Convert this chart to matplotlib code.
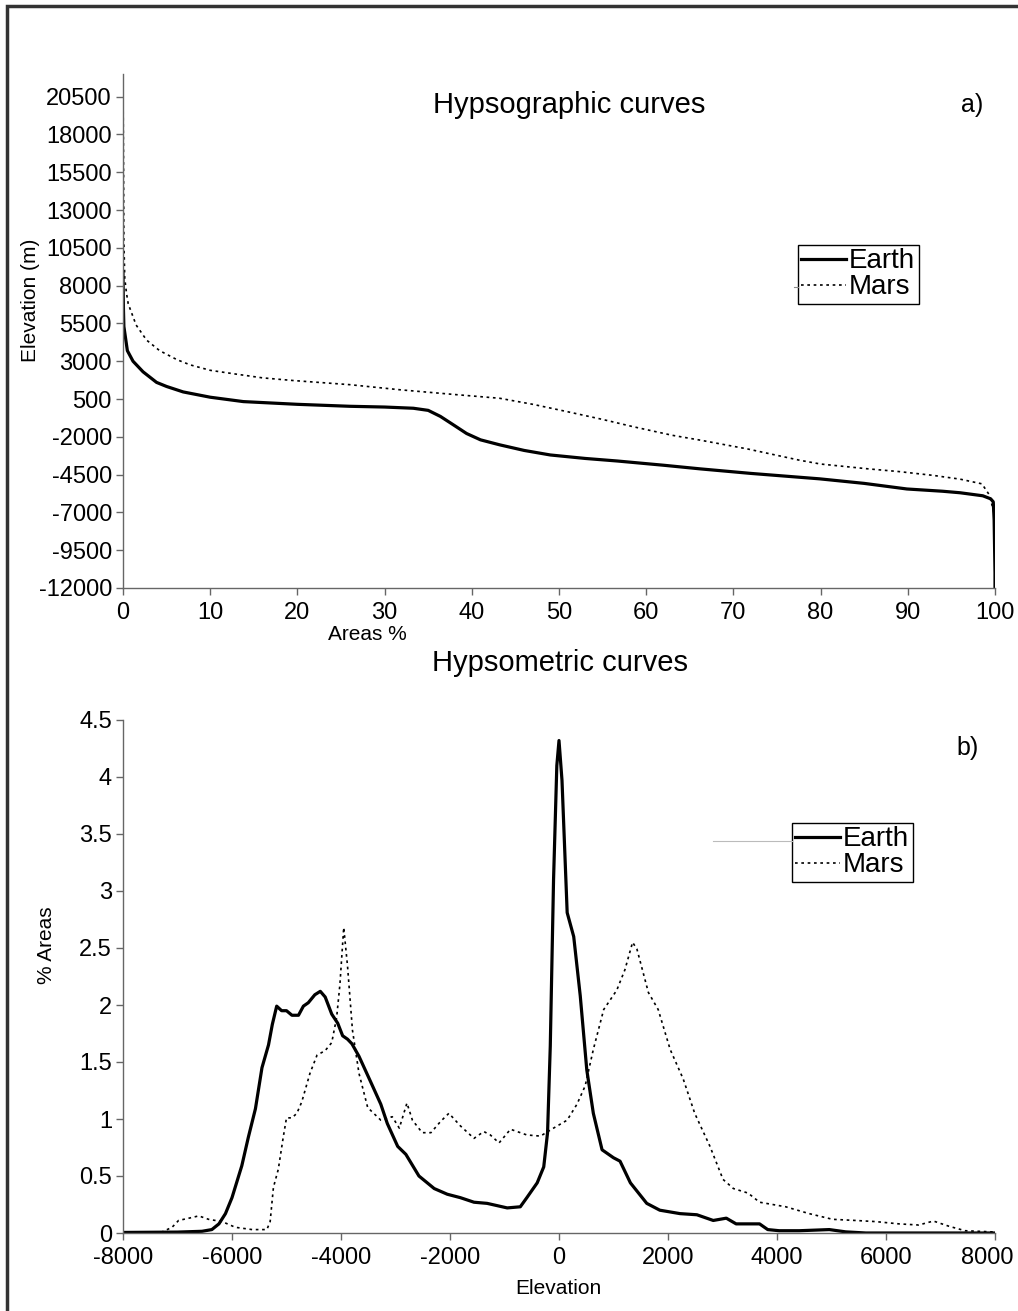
"""
Hypsographic / hypsometric curves, Earth vs Mars.
Two stacked panels, Excel-like styling.
"""

import matplotlib
matplotlib.use("Agg")
import matplotlib.pyplot as plt
from matplotlib.patches import Rectangle
from matplotlib.lines import Line2D
from matplotlib.ticker import FuncFormatter
from matplotlib.transforms import ScaledTranslation

plt.rcParams["font.family"] = ["Liberation Sans", "DejaVu Sans"]
plt.rcParams["axes.unicode_minus"] = False

# ---- panel a) hypsographic curves: cumulative area % vs elevation (m)
EARTH_AREA = [0, 0.05, 0.1, 0.5, 1.15, 2.3, 3.85, 5, 6.9, 10, 13.8, 20, 26, 30,
              33.3, 35, 36.4, 38, 39.4, 41, 43.2, 46, 49, 53, 56.7, 62, 66.2,
              72, 79.9, 85, 89.9, 94, 96, 98.6, 99.5, 99.8, 99.9, 100, 100]
EARTH_ELEV = [8800, 6500, 5300, 3700, 3000, 2300, 1600, 1330, 970, 620, 330,
              150, 20, -30, -110, -250, -650, -1250, -1780, -2200, -2530, -2900,
              -3200, -3430, -3600, -3880, -4120, -4420, -4780, -5080, -5450,
              -5600, -5700, -5900, -6100, -6300, -7500, -11000, -12000]

MARS_AREA = [0, 0.05, 0.1, 0.2, 0.4, 0.6, 1.5, 2.7, 4.2, 6.2, 7.7, 10, 12.7,
             16, 19.6, 26, 31.8, 38, 43.2, 47, 50.9, 55, 58.5, 63, 66.2, 71.6,
             77.6, 80, 85.3, 89, 92.9, 96, 98.5, 99.3, 99.8, 100]
MARS_ELEV = [21200, 17000, 11000, 8500, 7500, 6800, 5400, 4400, 3700, 3100,
             2760, 2400, 2170, 1900, 1720, 1450, 1110, 800, 550, 150, -330,
             -850, -1330, -1900, -2220, -2800, -3550, -3800, -4110, -4300,
             -4550, -4800, -5110, -5800, -6800, -7500]

# ---- panel b) hypsometric curves: % area per elevation bin
EARTH_H_X = [-8000, -7000, -6550, -6370, -6240, -6120, -6000, -5820, -5700,
             -5570, -5450, -5330, -5260, -5180, -5090, -5000, -4900, -4780,
             -4690, -4600, -4480, -4380, -4290, -4170, -4060, -3970, -3880,
             -3800, -3670, -3450, -3270, -3150, -2960, -2810, -2570, -2290,
             -2050, -1810, -1560, -1320, -950, -710, -590, -400, -280, -210,
             -160, -100, -40, 0, 55, 150, 270, 390, 510, 630, 790, 1000, 1120,
             1310, 1610, 1850, 2220, 2530, 2830, 3070, 3250, 3680, 3830, 4040,
             4410, 4960, 5260, 5630, 8000]
EARTH_H_Y = [0.005, 0.008, 0.015, 0.03, 0.08, 0.17, 0.31, 0.59, 0.84, 1.09,
             1.45, 1.65, 1.83, 1.99, 1.95, 1.95, 1.91, 1.91, 1.99, 2.02, 2.09,
             2.12, 2.07, 1.92, 1.84, 1.73, 1.70, 1.66, 1.55, 1.32, 1.13, 0.96,
             0.76, 0.69, 0.50, 0.39, 0.34, 0.31, 0.27, 0.26, 0.22, 0.23, 0.31,
             0.44, 0.58, 0.88, 1.64, 3.10, 4.10, 4.32, 3.97, 2.81, 2.60, 2.08,
             1.43, 1.05, 0.73, 0.66, 0.63, 0.44, 0.26, 0.20, 0.17, 0.16, 0.11,
             0.13, 0.08, 0.08, 0.03, 0.02, 0.02, 0.03, 0.01, 0.0, 0.0]

MARS_H_X = [-8000, -7280, -7100, -6980, -6790, -6610, -6430, -6180, -5940,
            -5630, -5360, -5300, -5240, -5150, -5060, -5000, -4900, -4810,
            -4720, -4570, -4440, -4290, -4170, -4080, -4020, -3950, -3880,
            -3790, -3670, -3510, -3270, -3060, -2930, -2790, -2690, -2510,
            -2350, -2170, -2020, -1810, -1560, -1380, -1260, -1100, -890, -590,
            -340, -100, 150, 330, 480, 630, 820, 1060, 1210, 1350, 1430, 1640,
            1820, 2040, 2280, 2490, 2770, 3010, 3200, 3470, 3680, 4160, 4590,
            5020, 5440, 5810, 6240, 6600, 6870, 7150, 7450, 7940, 8000]
MARS_H_Y = [0.0, 0.01, 0.05, 0.11, 0.13, 0.15, 0.12, 0.10, 0.05, 0.03, 0.03,
            0.10, 0.40, 0.56, 0.84, 1.01, 1.01, 1.05, 1.15, 1.40, 1.56, 1.60,
            1.67, 1.89, 2.18, 2.68, 2.34, 1.78, 1.40, 1.10, 0.99, 1.02, 0.92,
            1.14, 0.99, 0.88, 0.88, 0.98, 1.05, 0.94, 0.83, 0.89, 0.86, 0.79,
            0.91, 0.86, 0.85, 0.92, 0.99, 1.13, 1.29, 1.61, 1.96, 2.13, 2.31,
            2.55, 2.49, 2.11, 1.96, 1.61, 1.35, 1.05, 0.76, 0.47, 0.39, 0.35,
            0.27, 0.23, 0.17, 0.12, 0.11, 0.10, 0.08, 0.07, 0.105, 0.06, 0.02,
            0.01, 0.0]

TOP_YTICKS = list(range(-12000, 20501, 2500))
TOP_XTICKS = list(range(0, 101, 10))
BOT_XTICKS = list(range(-8000, 8001, 2000))
BOT_YTICKS = [0, 0.5, 1, 1.5, 2, 2.5, 3, 3.5, 4, 4.5]

W, H = 1018, 1311
AXIS_GRAY = "#666666"
DOT = (0, (1.6, 2.2))


def px(x, y):
    # figure-pixel (from top-left) -> figure fraction
    return x / W, 1 - y / H


def style_axes(ax):
    for s in ("top", "right"):
        ax.spines[s].set_visible(False)
    for s in ("left", "bottom"):
        ax.spines[s].set_color(AXIS_GRAY)
        ax.spines[s].set_linewidth(1.0)
    ax.tick_params(direction="out", length=5, width=1.0, color=AXIS_GRAY,
                   labelsize=17, pad=3)
    ax.tick_params(axis="x", pad=5)
    ax.yaxis.set_major_formatter(FuncFormatter(lambda v, p: f"{v:g}"))
    ax.xaxis.set_major_formatter(FuncFormatter(lambda v, p: f"{v:g}"))


def add_legend(ax, corner):
    leg = ax.legend(loc="upper left", bbox_to_anchor=px(*corner),
                    bbox_transform=fig.transFigure, fontsize=20, frameon=True,
                    fancybox=False, edgecolor="black", framealpha=1,
                    borderpad=0.12, borderaxespad=0, handlelength=1.6,
                    handletextpad=0.12, labelspacing=0.0)
    leg.get_frame().set_linewidth(1.0)
    return leg


fig = plt.figure(figsize=(W / 100, H / 100), dpi=100)

# outer frame (open at right / bottom, as in the scan)
fig.patches.append(Rectangle(px(7, 1400), (W + 50) / W, (1400 - 6) / H,
                             transform=fig.transFigure, fill=False,
                             edgecolor="#333333", linewidth=2.5))

# ---- top panel
ax1 = fig.add_axes([123 / W, 1 - 588 / H, 872 / W, 514 / H])
style_axes(ax1)
ax1.plot(EARTH_AREA, EARTH_ELEV, color="black", linewidth=2.3, label="Earth")
ax1.plot(MARS_AREA, MARS_ELEV, color="black", linewidth=1.2, linestyle=DOT,
         label="Mars")
ax1.set_xlim(0, 100)
ax1.set_ylim(-12000, 22000)
ax1.set_xticks(TOP_XTICKS)
ax1.set_yticks(TOP_YTICKS)
add_legend(ax1, (798, 245))

fig.text(*px(569, 105), "Hypsographic curves", fontsize=21, ha="center",
         va="center")
fig.text(*px(972, 105), "a)", fontsize=18, ha="center", va="center")
fig.text(*px(30, 300), "Elevation (m)", fontsize=15, rotation=90,
         ha="center", va="center")
fig.text(*px(367, 634), "Areas %", fontsize=15, ha="center", va="center")

# ---- bottom panel
ax2 = fig.add_axes([123 / W, 1 - 1233 / H, 872 / W, 513 / H])
style_axes(ax2)
ax2.plot(EARTH_H_X, EARTH_H_Y, color="black", linewidth=2.3, label="Earth")
ax2.plot(MARS_H_X, MARS_H_Y, color="black", linewidth=1.2, linestyle=DOT,
         label="Mars")
ax2.set_xlim(-8000, 8000)
ax2.set_ylim(0, 4.5)
ax2.set_xticks(BOT_XTICKS)
ax2.set_yticks(BOT_YTICKS)
add_legend(ax2, (792, 823))

# last x label sits a little left of its tick, so it stays inside the page
last = ax2.get_xticklabels()[-1]
last.set_transform(last.get_transform()
                   + ScaledTranslation(-0.08, 0, fig.dpi_scale_trans))

fig.text(*px(560, 663), "Hypsometric curves", fontsize=21, ha="center",
         va="center")
fig.text(*px(968, 748), "b)", fontsize=18, ha="center", va="center")
fig.text(*px(47, 945), "% Areas", fontsize=15, rotation=90,
         ha="center", va="center")
fig.text(*px(558, 1288), "Elevation", fontsize=15, ha="center", va="center")

# stray leader lines next to the legends
fig.add_artist(Line2D([713 / W, 792 / W], [1 - 841 / H] * 2,
                      transform=fig.transFigure, color="#bbbbbb", lw=0.8))
fig.add_artist(Line2D([794 / W, 798 / W], [1 - 287 / H] * 2,
                      transform=fig.transFigure, color="#888888", lw=0.8))

fig.savefig("out.png", dpi=100)
